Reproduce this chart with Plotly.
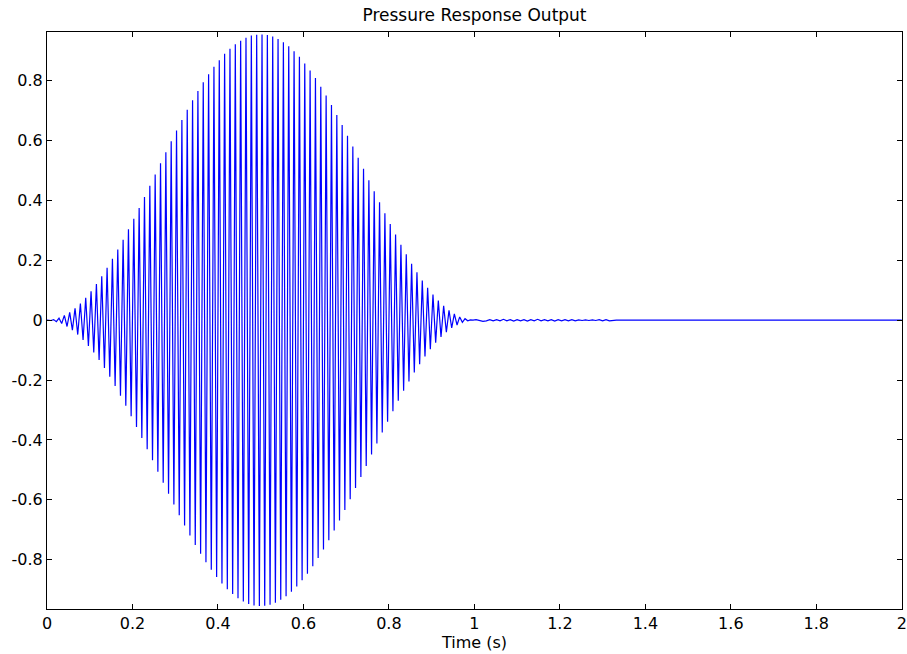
import plotly.graph_objects as go

# time (s) of each crest/trough of the burst
burst_time = [
    0.0,
    0.0031, 0.0094, 0.0156, 0.0219, 0.0281, 0.0344, 0.0406, 0.0469, 0.0531, 0.0594, 0.0656, 0.0719, 0.0781, 0.0844, 0.0906, 0.0969,
    0.1031, 0.1094, 0.1156, 0.1219, 0.1281, 0.1344, 0.1406, 0.1469, 0.1531, 0.1594, 0.1656, 0.1719, 0.1781, 0.1844, 0.1906, 0.1969,
    0.2031, 0.2094, 0.2156, 0.2219, 0.2281, 0.2344, 0.2406, 0.2469, 0.2531, 0.2594, 0.2656, 0.2719, 0.2781, 0.2844, 0.2906, 0.2969,
    0.3031, 0.3094, 0.3156, 0.3219, 0.3281, 0.3344, 0.3406, 0.3469, 0.3531, 0.3594, 0.3656, 0.3719, 0.3781, 0.3844, 0.3906, 0.3969,
    0.4031, 0.4094, 0.4156, 0.4219, 0.4281, 0.4344, 0.4406, 0.4469, 0.4531, 0.4594, 0.4656, 0.4719, 0.4781, 0.4844, 0.4906, 0.4969,
    0.5031, 0.5094, 0.5156, 0.5219, 0.5281, 0.5344, 0.5406, 0.5469, 0.5531, 0.5594, 0.5656, 0.5719, 0.5781, 0.5844, 0.5906, 0.5969,
    0.6031, 0.6094, 0.6156, 0.6219, 0.6281, 0.6344, 0.6406, 0.6469, 0.6531, 0.6594, 0.6656, 0.6719, 0.6781, 0.6844, 0.6906, 0.6969,
    0.7031, 0.7094, 0.7156, 0.7219, 0.7281, 0.7344, 0.7406, 0.7469, 0.7531, 0.7594, 0.7656, 0.7719, 0.7781, 0.7844, 0.7906, 0.7969,
    0.8031, 0.8094, 0.8156, 0.8219, 0.8281, 0.8344, 0.8406, 0.8469, 0.8531, 0.8594, 0.8656, 0.8719, 0.8781, 0.8844, 0.8906, 0.8969,
    0.9031, 0.9094, 0.9156, 0.9219, 0.9281, 0.9344, 0.9406, 0.9469, 0.9531, 0.9594, 0.9656, 0.9719, 0.9781, 0.9844, 0.9906, 0.9969,
]

# pressure at each crest/trough
burst_value = [
    0.0,
    0.000, -0.001, 0.002, -0.005, 0.007, -0.011, 0.016, -0.021, 0.026, -0.033,
    0.040, -0.048, 0.056, -0.066, 0.075, -0.086, 0.097, -0.108, 0.121, -0.133,
    0.147, -0.160, 0.175, -0.189, 0.205, -0.220, 0.236, -0.252, 0.269, -0.286,
    0.304, -0.321, 0.339, -0.357, 0.375, -0.394, 0.412, -0.431, 0.449, -0.468,
    0.487, -0.506, 0.524, -0.543, 0.561, -0.580, 0.598, -0.616, 0.634, -0.652,
    0.669, -0.686, 0.703, -0.719, 0.735, -0.751, 0.766, -0.780, 0.795, -0.809,
    0.822, -0.834, 0.847, -0.858, 0.869, -0.880, 0.890, -0.899, 0.907, -0.915,
    0.922, -0.929, 0.934, -0.940, 0.944, -0.948, 0.951, -0.953, 0.954, -0.955,
    0.955, -0.954, 0.953, -0.951, 0.948, -0.944, 0.940, -0.934, 0.929, -0.922,
    0.915, -0.907, 0.899, -0.890, 0.880, -0.869, 0.858, -0.847, 0.834, -0.822,
    0.809, -0.795, 0.780, -0.766, 0.751, -0.735, 0.719, -0.703, 0.686, -0.669,
    0.652, -0.634, 0.616, -0.598, 0.580, -0.561, 0.543, -0.524, 0.506, -0.487,
    0.468, -0.449, 0.431, -0.412, 0.394, -0.375, 0.357, -0.339, 0.321, -0.304,
    0.286, -0.269, 0.252, -0.236, 0.220, -0.205, 0.189, -0.175, 0.160, -0.147,
    0.133, -0.121, 0.108, -0.097, 0.086, -0.075, 0.066, -0.056, 0.048, -0.040,
    0.033, -0.026, 0.021, -0.016, 0.011, -0.007, 0.005, -0.002, 0.001, 0.000,
]

# small residual ringing after the burst
tail_time = [
    1.004, 1.012, 1.020, 1.028, 1.036, 1.044, 1.052, 1.060, 1.068, 1.076,
    1.084, 1.092, 1.100, 1.108, 1.116, 1.124, 1.132, 1.140, 1.148, 1.156,
    1.164, 1.172, 1.180, 1.188, 1.196, 1.204, 1.212, 1.220, 1.228, 1.236,
    1.244, 1.252, 1.260, 1.268, 1.276, 1.284, 1.292, 1.300, 1.308, 1.316,
    1.324, 1.332, 2.000,
]
tail_value = [
    0.002, -0.002, -0.004, -0.002, 0.002, -0.002, 0.002, -0.002, 0.003, -0.002,
    0.002, -0.003, 0.002, -0.002, 0.002, -0.003, 0.002, -0.002, 0.003, -0.002,
    0.002, -0.002, 0.002, -0.003, 0.002, -0.002, 0.002, -0.002, 0.002, -0.002,
    0.001, -0.001, 0.001, -0.001, 0.001, -0.001, 0.002, -0.002, 0.002, -0.002,
    0.000, 0.000, 0.000,
]

xtick_vals = [0, 0.2, 0.4, 0.6, 0.8, 1, 1.2, 1.4, 1.6, 1.8, 2]
xtick_labels = ["0", "0.2", "0.4", "0.6", "0.8", "1", "1.2", "1.4", "1.6", "1.8", "2"]
ytick_vals = [-0.8, -0.6, -0.4, -0.2, 0, 0.2, 0.4, 0.6, 0.8]
ytick_labels = ["-0.8", "-0.6", "-0.4", "-0.2", "0", "0.2", "0.4", "0.6", "0.8"]

fig = go.Figure(
    go.Scatter(
        x=burst_time + tail_time,
        y=burst_value + tail_value,
        mode="lines",
        line=dict(color="rgb(0,0,255)", width=1.2),
        showlegend=False,
    )
)

font = dict(family="DejaVu Sans", size=16, color="black")
axis_style = dict(
    showline=True,
    linecolor="black",
    linewidth=1,
    mirror="ticks",
    ticks="inside",
    ticklen=5,
    tickcolor="black",
    showgrid=False,
    zeroline=False,
    tickfont=font,
    ticklabeloverflow="allow",
    automargin=False,
)

fig.update_layout(
    width=907,
    height=654,
    margin=dict(l=47, r=5, t=32, b=45),
    paper_bgcolor="white",
    plot_bgcolor="white",
    font=font,
    title=dict(
        text="Pressure Response Output",
        x=0.5,
        xref="paper",
        y=1 - 15 / 654,
        yref="container",
        yanchor="middle",
        font=dict(family="DejaVu Sans", size=17, color="black"),
    ),
)
fig.update_xaxes(
    range=[0, 2.0005],
    tickvals=xtick_vals,
    ticktext=xtick_labels,
    title=dict(text="Time (s)", font=font, standoff=2),
    **axis_style,
)
fig.update_yaxes(
    range=[-0.965, 0.963],
    tickvals=ytick_vals,
    ticktext=ytick_labels,
    **axis_style,
)

# drop the browser's default 8px body margin so the figure sits at the page corner
fig.write_html(
    "out.html",
    config={"displayModeBar": False},
    post_script="document.body.style.margin='0px';",
)
